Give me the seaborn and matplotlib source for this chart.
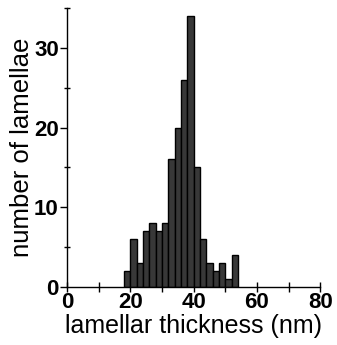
import matplotlib
matplotlib.use("Agg")
import matplotlib.pyplot as plt
import matplotlib.ticker as mtick
import seaborn as sns

# histogram bins (nm) and counts
bin_edges = [18, 20, 22, 24, 26, 28, 30, 32, 34, 36, 38, 40, 42, 44, 46, 48, 50, 52, 54]
counts = [2, 6, 3, 7, 8, 7, 8, 16, 20, 26, 34, 15, 6, 3, 2, 3, 1, 4]

sns.set_style("ticks", {"axes.edgecolor": "black", "text.color": "black",
                        "xtick.color": "black", "ytick.color": "black",
                        "axes.labelcolor": "black"})
plt.rcParams["font.family"] = ["Liberation Sans", "DejaVu Sans"]

centers = [(a + b) / 2 for a, b in zip(bin_edges[:-1], bin_edges[1:])]

fig = plt.figure(figsize=(3.37, 3.45), dpi=100)
ax = fig.add_axes([0.199, 0.168, 0.751, 0.809])

sns.histplot(x=centers, weights=counts, bins=bin_edges, ax=ax,
             color="#383838", edgecolor="black", linewidth=1, alpha=1)

ax.set_xlim(0, 80)
ax.set_ylim(0, 35)
ax.xaxis.set_major_locator(mtick.MultipleLocator(20))
ax.xaxis.set_minor_locator(mtick.MultipleLocator(10))
ax.yaxis.set_major_locator(mtick.MultipleLocator(10))
ax.yaxis.set_minor_locator(mtick.MultipleLocator(5))

sns.despine(ax=ax)
for s in ("left", "bottom"):
    ax.spines[s].set_linewidth(1)

ax.tick_params(axis="x", which="both", direction="inout", length=7, width=1, pad=0)
ax.tick_params(axis="y", which="major", direction="out", length=5, width=1, pad=1)
ax.tick_params(axis="y", which="minor", direction="inout", length=4, width=1)
ax.tick_params(labelsize=16)
for t in ax.get_xticklabels() + ax.get_yticklabels():
    t.set_fontweight("bold")

ax.set_xlabel("lamellar thickness (nm)", fontsize=18, labelpad=1)
ax.set_ylabel("number of lamellae", fontsize=18.5, labelpad=0)

fig.savefig("out.png", dpi=100)
